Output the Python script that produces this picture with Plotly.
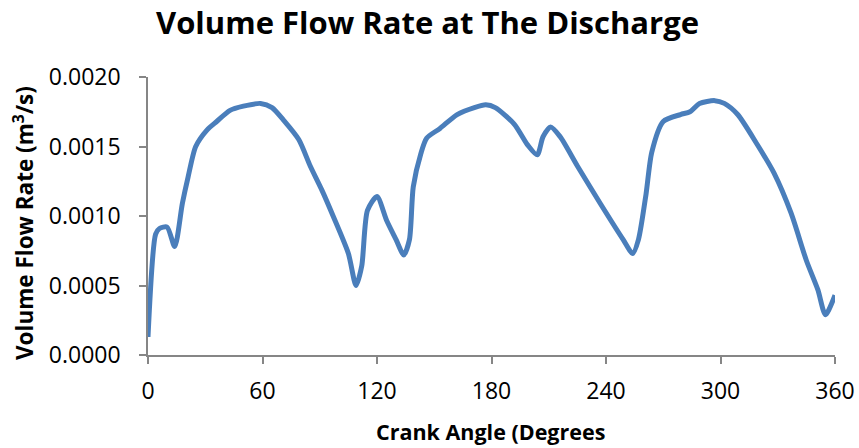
import plotly.graph_objects as go

crank_angle = [0, 4, 6, 10, 14, 18, 21, 25, 31, 36, 43, 50, 59, 65, 71, 79, 85, 91, 97,
               105, 109, 112, 115, 120, 125, 130, 134, 137, 139, 143, 146, 153, 162, 171,
               177, 182, 192, 199, 204, 207, 211, 216, 225, 237, 249, 254, 257, 261, 264,
               270, 279, 284, 289, 297, 302, 309, 319, 328, 337, 345, 351, 355, 360]
flow_rate = [0.00013, 0.00087, 0.00091, 0.00092, 0.00078, 0.00109, 0.00128, 0.00150,
             0.00162, 0.00168, 0.00176, 0.00179, 0.00181, 0.00178, 0.00169, 0.00155,
             0.00136, 0.00119, 0.00100, 0.00073, 0.00050, 0.00064, 0.00104, 0.00114,
             0.00097, 0.00083, 0.00072, 0.00083, 0.00121, 0.00145, 0.00156, 0.00163,
             0.00173, 0.00178, 0.00180, 0.00178, 0.00166, 0.00151, 0.00144, 0.00157,
             0.00164, 0.00157, 0.00136, 0.00109, 0.00083, 0.00073, 0.00083, 0.00116,
             0.00146, 0.00168, 0.00173, 0.00175, 0.00181, 0.00183, 0.00181, 0.00173,
             0.00152, 0.00131, 0.00102, 0.00068, 0.00047, 0.00029, 0.00043]
x_ticks = [0, 60, 120, 180, 240, 300, 360]
y_ticks = [0.0, 0.0005, 0.0010, 0.0015, 0.0020]

FONT = "Open Sans"
AXIS_GREY = "#868686"

fig = go.Figure()
fig.add_trace(go.Scatter(
    x=crank_angle, y=flow_rate, mode="lines",
    line=dict(color="#4A7EBB", width=5, shape="spline", smoothing=0.7),
    hoverinfo="x+y", showlegend=False,
))

fig.update_layout(
    width=859, height=448,
    margin=dict(l=148, r=24, t=77, b=93, autoexpand=False),
    paper_bgcolor="white", plot_bgcolor="white",
    font=dict(family=FONT, color="black"),
    title=dict(text="<b>Volume Flow Rate at The Discharge</b>",
               font=dict(family=FONT, size=31, color="black"),
               x=(427.5) / 859, xref="container", xanchor="center",
               y=1 - 23 / 448, yref="container", yanchor="middle"),
    xaxis=dict(range=[0, 360], tickvals=x_ticks, ticktext=[str(v) for v in x_ticks],
               showgrid=False, zeroline=False, showline=True, linecolor=AXIS_GREY,
               linewidth=1.5, ticks="outside", ticklen=7, tickcolor=AXIS_GREY,
               tickwidth=1.5, tickfont=dict(family=FONT, size=23, color="black"),
               ticklabelstandoff=8, automargin=False),
    yaxis=dict(range=[0, 0.002], tickvals=y_ticks, tickformat=".4f",
               showgrid=False, zeroline=False, showline=True, linecolor=AXIS_GREY,
               linewidth=1.5, ticks="outside", ticklen=7, tickcolor=AXIS_GREY,
               tickwidth=1.5, tickfont=dict(family=FONT, size=23, color="black"),
               ticklabelstandoff=14, automargin=False),
    annotations=[
        dict(text="<b>Volume Flow Rate (m<sup>3</sup>/s)</b>", textangle=-90,
             xref="paper", yref="paper", x=(23 - 148) / 687, y=(355 - 223) / 278,
             xanchor="center", yanchor="middle", showarrow=False,
             font=dict(family=FONT, size=22.5, color="black")),
        dict(text="<b>Crank Angle (Degrees</b>",
             xref="paper", yref="paper", x=(490 - 148) / 687, y=-(431 - 355) / 278,
             xanchor="center", yanchor="middle", showarrow=False,
             font=dict(family=FONT, size=21.5, color="black")),
    ],
)

fig.write_html("out.html")
